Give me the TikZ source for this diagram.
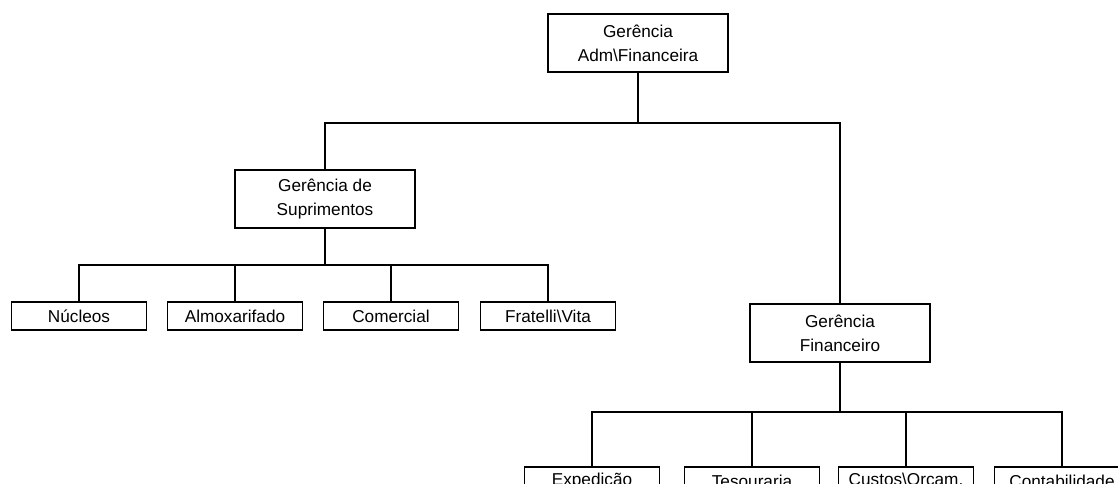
\documentclass[tikz,border=0pt]{standalone}
\usepackage{fontspec}
\newfontfamily\orgfont{Liberation Sans}
\usetikzlibrary{positioning}

\begin{document}
\begin{tikzpicture}[
    x=1pt, y=-1pt,
    font={\orgfont\fontsize{17.2}{24}\selectfont},
    unit/.style={draw=black,line width=1.1pt,fill=white,align=center,inner sep=0pt,
        minimum width=180pt,minimum height=58pt},
    leaf/.style={unit,minimum width=135pt,minimum height=28pt},
    link/.style={line width=1.1pt,black}
]
    \useasboundingbox (0,0) rectangle (1118,484);
    \clip (0,0) rectangle (1118,484);

    % Top management and the two departments.
    \node[unit] (adm) at (638,43)  {Gerência\\Adm\textbackslash Financeira};
    \node[unit] (sup) at (325,199) {Gerência de\\Suprimentos};
    \node[unit] (fin) at (840,333) {Gerência\\Financeiro};

    % Sections below Suprimentos.
    \node[leaf] (nuc) at (79,316)  {Núcleos};
    \node[leaf] (alm) at (235,316) {Almoxarifado};
    \node[leaf] (com) at (391,316) {Comercial};
    \node[leaf] (fra) at (548,316) {Fratelli\textbackslash Vita};

    % Sections below Financeiro (cut by the lower edge).
    \node[leaf] (exp) at (592,481)  {Expedição};
    \node[leaf] (tes) at (752,481)  {Tesouraria};
    \node[leaf] (cus) at (906,481)  {Custos\textbackslash Orçam.};
    \node[leaf] (con) at (1062,481) {Contabilidade};

    \coordinate (busA) at (638,123);
    \coordinate (busS) at (325,265);
    \coordinate (busF) at (840,412);

    \draw[link] (adm.south) -- (busA);
    \draw[link] (sup.north) |- (busA) -| (fin.north);

    \draw[link] (sup.south) -- (busS);
    \foreach \n in {nuc,alm,com,fra}
        \draw[link] (busS) -| (\n.north);

    \draw[link] (fin.south) -- (busF);
    \foreach \n in {exp,tes,cus,con}
        \draw[link] (busF) -| (\n.north);
\end{tikzpicture}
\end{document}
